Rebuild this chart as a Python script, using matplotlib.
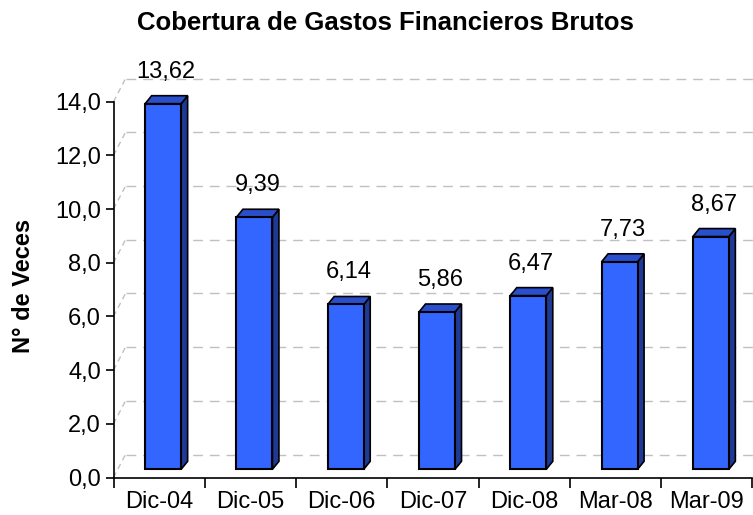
import matplotlib
matplotlib.use("Agg")
import matplotlib.pyplot as plt
from matplotlib.patches import Polygon, Rectangle

plt.rcParams['font.family'] = ['Liberation Sans', 'DejaVu Sans']

# ---------------------------------------------------------------------------
# DATA
# ---------------------------------------------------------------------------
categories = ["Dic-04", "Dic-05", "Dic-06", "Dic-07", "Dic-08", "Mar-08", "Mar-09"]
values = [13.62, 9.39, 6.14, 5.86, 6.47, 7.73, 8.67]
value_labels = ["13,62", "9,39", "6,14", "5,86", "6,47", "7,73", "8,67"]
y_ticks = [0, 2, 4, 6, 8, 10, 12, 14]
y_tick_labels = ["0,0", "2,0", "4,0", "6,0", "8,0", "10,0", "12,0", "14,0"]

# colours of the pseudo-3D columns
c_front = "#3366FF"
c_top = "#2A4FCC"
c_side = "#1E3A96"
c_grid = "#C0C0C0"

# ---------------------------------------------------------------------------
# FIGURE
# ---------------------------------------------------------------------------
W, H = 753, 515
fig = plt.figure(figsize=(W / 100, H / 100), dpi=100)
ax = fig.add_axes([113.5 / W, (H - 477.5) / H, 639 / W, 375.8 / H])
n = len(categories)
ax.set_xlim(-0.5, n - 0.5)
ax.set_ylim(0, 14)

ppx = 639 / n       # pixels per category
ppy = 375.8 / 14    # pixels per unit


def dx(p):
    return p / ppx


def dy(p):
    return p / ppy


# back wall offset and bar placement (pixels)
wall_x, wall_y = 12, 23
bar_w, bar_off, bar_lift = 36, 4, 8.2
depth_x, depth_y = 6.5, 8

# back-wall gridlines + diagonal connectors
for v in y_ticks:
    ax.plot([-0.5 + dx(wall_x), n - 0.5 + dx(wall_x)],
            [v + dy(wall_y), v + dy(wall_y)],
            color=c_grid, lw=1.0, dashes=(7, 5), zorder=1, clip_on=False)
    ax.plot([-0.5, -0.5 + dx(wall_x)], [v, v + dy(wall_y)],
            color=c_grid, lw=1.0, dashes=(4, 3), zorder=1, clip_on=False)

# columns
for i, v in enumerate(values):
    x0 = i + dx(bar_off) - dx(bar_w) / 2
    x1 = x0 + dx(bar_w)
    y0 = dy(bar_lift)
    y1 = y0 + v
    ddx, ddy = dx(depth_x), dy(depth_y)
    side = Polygon([(x1, y0), (x1 + ddx, y0 + ddy), (x1 + ddx, y1 + ddy), (x1, y1)],
                   closed=True, fc=c_side, ec="black", lw=1.2, zorder=3, clip_on=False)
    top = Polygon([(x0, y1), (x1, y1), (x1 + ddx, y1 + ddy), (x0 + ddx, y1 + ddy)],
                  closed=True, fc=c_top, ec="black", lw=1.2, zorder=3, clip_on=False)
    front = Rectangle((x0, y0), x1 - x0, v, fc=c_front, ec="black", lw=1.5,
                      zorder=4, clip_on=False)
    ax.add_patch(side)
    ax.add_patch(top)
    ax.add_patch(front)
    ax.text(i + dx(7), y1 + dy(32), value_labels[i], ha="center", va="center",
            fontsize=17, color="black", zorder=5)

# axes styling
for s in ["top", "right"]:
    ax.spines[s].set_visible(False)
ax.spines["left"].set_linewidth(1.2)
ax.spines["bottom"].set_linewidth(1.2)

ax.set_yticks(y_ticks)
ax.set_yticklabels(y_tick_labels, fontsize=17)
ax.tick_params(axis="y", length=6, width=1.2, pad=3)

ax.set_xticks([k - 0.5 for k in range(n + 1)])
ax.set_xticklabels([])
ax.set_xticks(range(n), minor=True)
ax.set_xticklabels(categories, minor=True, fontsize=17)
ax.tick_params(axis="x", which="major", length=7, width=1.2)
ax.tick_params(axis="x", which="minor", length=0, pad=10)

ax.set_ylabel("N° de Veces", fontsize=17, fontweight="bold")
ax.yaxis.set_label_coords(-0.123, 0.51)

fig.text(385 / W, 1 - 29.5 / H, "Cobertura de Gastos Financieros Brutos",
         ha="center", va="baseline", fontsize=18.5, fontweight="bold")

fig.savefig("out.png", dpi=100)
